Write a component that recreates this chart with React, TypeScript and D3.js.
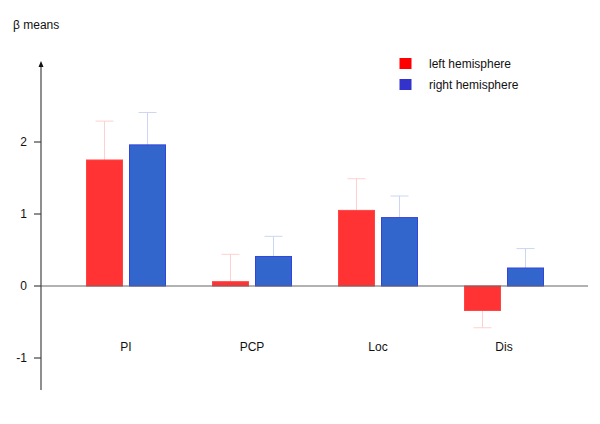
import React from "react";
import * as d3 from "d3";

const categories = ["PI", "PCP", "Loc", "Dis"];
const seriesNames = ["left hemisphere", "right hemisphere"];
const leftMeans = [1.75, 0.06, 1.05, -0.34];
const rightMeans = [1.96, 0.41, 0.95, 0.25];
const leftErr = [0.54, 0.38, 0.44, 0.24];
const rightErr = [0.45, 0.28, 0.3, 0.27];
const yTicks = [-1, 0, 1, 2];

const W = 600;
const H = 424;

export default function App() {
  const y = d3.scaleLinear().domain([0, 2]).range([286, 142]);
  const x = d3.scaleBand<string>().domain(categories).range([63, 567]).paddingInner(0).paddingOuter(0);
  const groupW = x.bandwidth();
  const barW = 37;
  const gap = 6;
  const fills = ["#FF3333", "#3366CC"];
  const strokes = ["#FF4444", "#3344DD"];
  const errColors = ["#FFD0D0", "#CCD6F4"];
  const legendColors = ["#FF0000", "#3333CC"];
  const series = [
    { means: leftMeans, errs: leftErr },
    { means: rightMeans, errs: rightErr },
  ];
  const font = "Liberation Sans, Arial, sans-serif";

  return (
    <svg width={W} height={H} style={{ position: "absolute", left: 0, top: 0, background: "#fff" }}>
      <text x={13} y={29} fontFamily={font} fontSize={12} fill="#111">β means</text>
      {/* bars */}
      {categories.map((c, i) => {
        const cx = (x(c) as number) + groupW / 2;
        return (
          <g key={c}>
            {series.map((s, k) => {
              const v = s.means[i];
              const e = s.errs[i];
              const x0 = k === 0 ? cx - gap / 2 - barW : cx + gap / 2;
              const bc = x0 + barW / 2;
              const top = Math.min(y(v), y(0));
              const h = Math.abs(y(v) - y(0));
              const errEnd = v >= 0 ? y(v + e) : y(v - e);
              return (
                <g key={k}>
                  <line x1={bc} x2={bc} y1={y(v)} y2={errEnd} stroke={errColors[k]} strokeWidth={1} />
                  <line x1={bc - 9} x2={bc + 9} y1={errEnd} y2={errEnd} stroke={errColors[k]} strokeWidth={1} />
                  <rect x={x0 + 0.5} y={top} width={barW - 1} height={h} fill={fills[k]} stroke={strokes[k]} strokeWidth={1} />
                </g>
              );
            })}
            <text x={cx} y={351} textAnchor="middle" fontFamily={font} fontSize={12} fill="#111">{c}</text>
          </g>
        );
      })}
      {/* zero line */}
      <line x1={41} x2={588} y1={y(0)} y2={y(0)} stroke="#666" strokeWidth={1.2} />
      {/* y axis */}
      <line x1={41} x2={41} y1={66} y2={390} stroke="#444" strokeWidth={1.2} />
      <path d="M41,61 L38.5,67 L43.5,67 Z" fill="#111" />
      {yTicks.map((t) => (
        <g key={t}>
          <line x1={34} x2={41} y1={y(t)} y2={y(t)} stroke="#444" strokeWidth={1.2} />
          <text x={27} y={y(t) + 4} textAnchor="end" fontFamily={font} fontSize={12} fill="#111">{t}</text>
        </g>
      ))}
      {/* legend */}
      {seriesNames.map((n, k) => (
        <g key={n}>
          <rect x={399.5} y={58 + k * 21} width={12} height={11} fill={legendColors[k]} />
          <text x={429} y={68 + k * 21} fontFamily={font} fontSize={12} fill="#111">{n}</text>
        </g>
      ))}
    </svg>
  );
}
